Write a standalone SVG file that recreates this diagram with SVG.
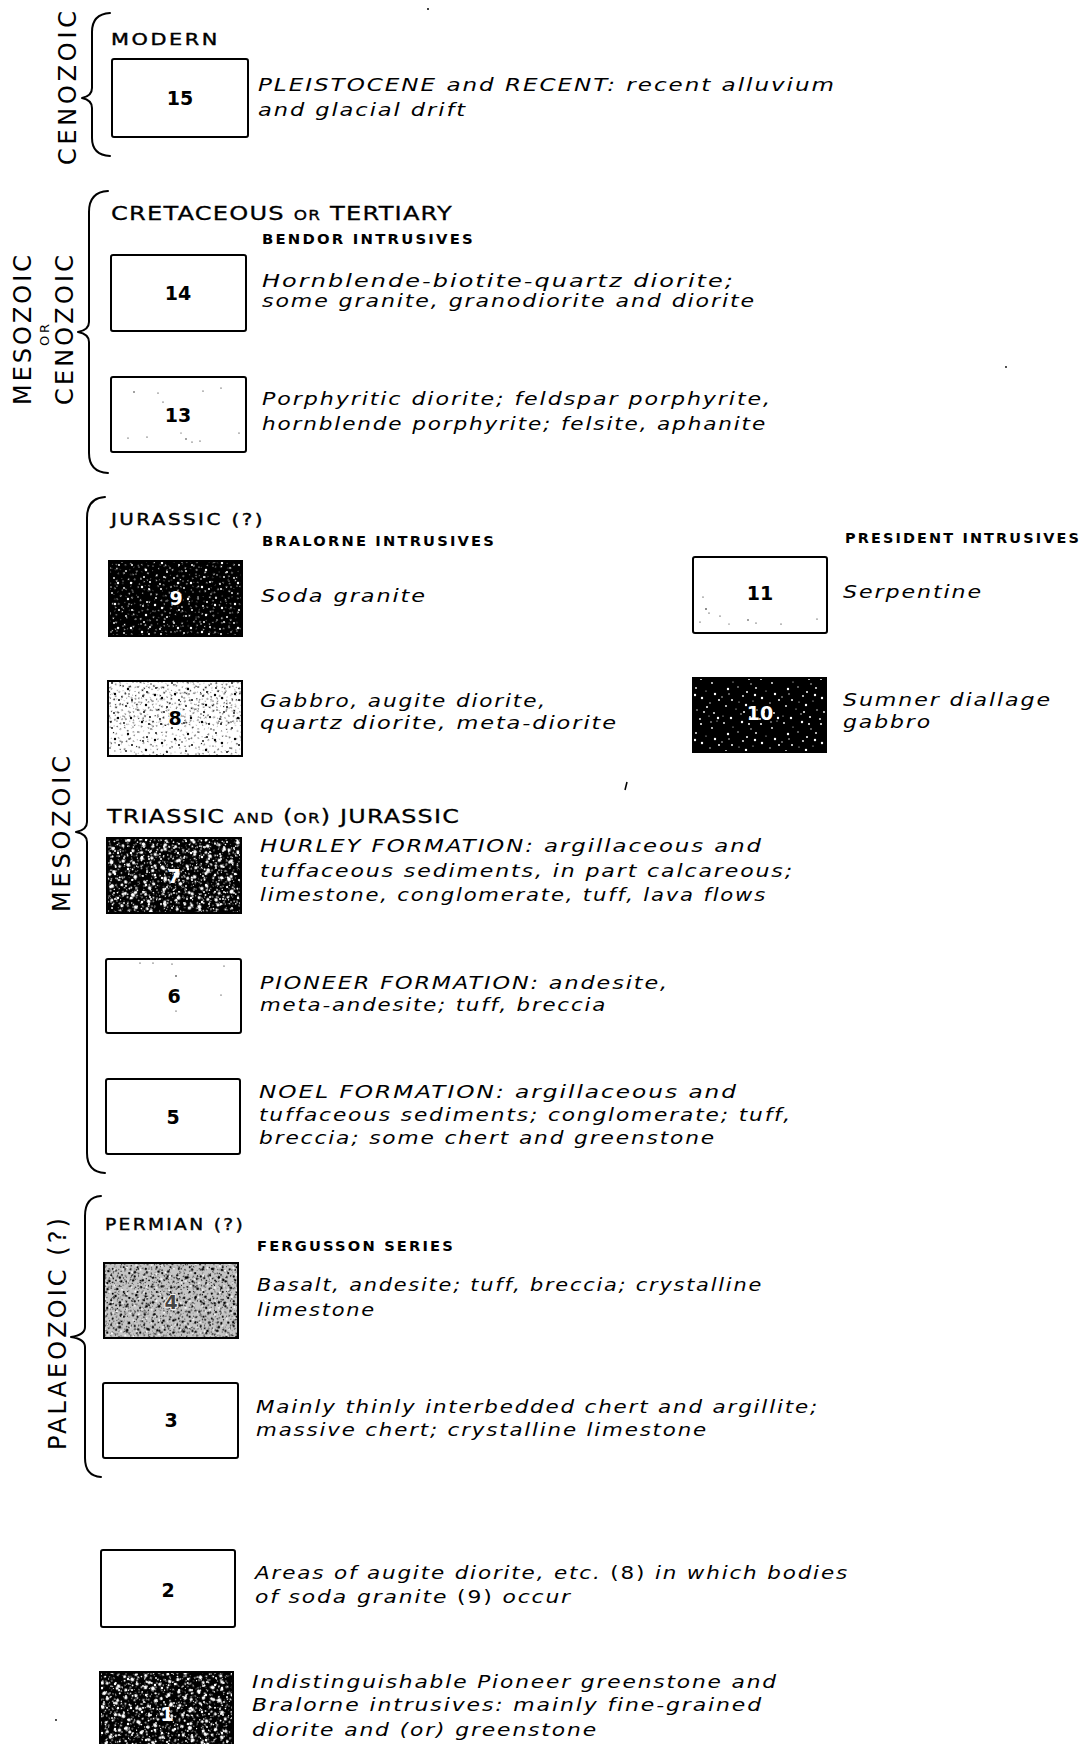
<svg xmlns="http://www.w3.org/2000/svg" xmlns:xlink="http://www.w3.org/1999/xlink" width="1091" height="1744" viewBox="0 0 1091 1744">
<style>
.bx{fill:#fff;stroke:#000;stroke-width:2}
.ol{fill:none;stroke:#000;stroke-width:2}
.br{fill:none;stroke:#000;stroke-width:2;stroke-linecap:round;stroke-linejoin:round}
.num{font-family:"DejaVu Sans","Liberation Sans",sans-serif;font-weight:bold;font-size:19px;text-anchor:middle;fill:#000}
.wn{fill:#fff}
.d{font-family:"DejaVu Sans","Liberation Sans",sans-serif;font-style:italic;font-size:17.5px;letter-spacing:1.5px;fill:#000}
.h{font-family:"DejaVu Sans","Liberation Sans",sans-serif;font-size:20px;letter-spacing:1px;fill:#000;stroke:#000;stroke-width:0.3}
.hm{font-family:"DejaVu Sans","Liberation Sans",sans-serif;font-size:16px;letter-spacing:2px;fill:#000;stroke:#000;stroke-width:0.4}
.sc{font-family:"DejaVu Sans","Liberation Sans",sans-serif;font-weight:bold;font-size:13.5px;letter-spacing:2px;fill:#000}
.era{font-family:"DejaVu Sans","Liberation Sans",sans-serif;font-size:24px;text-anchor:middle;fill:#000}
.up{font-style:normal}
</style>
<defs>
<g id="pts">
<circle cx="4" cy="3" r="0.9"/><circle cx="13" cy="7" r="0.6"/><circle cx="22" cy="2" r="1.2"/><circle cx="31" cy="9" r="0.7"/><circle cx="41" cy="4" r="1"/>
<circle cx="52" cy="8" r="0.9"/><circle cx="57" cy="1" r="0.6"/><circle cx="8" cy="14" r="1.2"/><circle cx="18" cy="12" r="0.7"/><circle cx="27" cy="17" r="1"/>
<circle cx="36" cy="13" r="0.9"/><circle cx="46" cy="16" r="0.6"/><circle cx="55" cy="19" r="1.2"/><circle cx="2" cy="22" r="0.7"/><circle cx="12" cy="25" r="1"/>
<circle cx="23" cy="21" r="0.9"/><circle cx="33" cy="26" r="0.6"/><circle cx="42" cy="23" r="1.2"/><circle cx="50" cy="28" r="0.7"/><circle cx="59" cy="25" r="1"/>
<circle cx="6" cy="31" r="0.9"/><circle cx="16" cy="34" r="0.6"/><circle cx="26" cy="30" r="1.2"/><circle cx="37" cy="35" r="0.7"/><circle cx="47" cy="32" r="1"/>
<circle cx="54" cy="38" r="0.9"/><circle cx="3" cy="41" r="0.6"/><circle cx="11" cy="43" r="1.2"/><circle cx="21" cy="39" r="0.7"/><circle cx="30" cy="42" r="1"/>
<circle cx="40" cy="44" r="0.9"/><circle cx="49" cy="41" r="0.6"/><circle cx="58" cy="43" r="1.2"/><circle cx="9" cy="19" r="0.7"/><circle cx="29" cy="4" r="1"/>
<circle cx="44" cy="37" r="0.9"/><circle cx="19" cy="27" r="0.6"/><circle cx="35" cy="20" r="1.2"/><circle cx="51" cy="2" r="0.7"/><circle cx="24" cy="37" r="1"/>
</g>
<g id="big">
<circle cx="10" cy="9" r="2"/><circle cx="38" cy="28" r="2.2"/><circle cx="25" cy="12" r="1.8"/><circle cx="50" cy="35" r="2"/><circle cx="15" cy="38" r="2.1"/>
<circle cx="45" cy="9" r="1.9"/><circle cx="31" cy="33" r="1.7"/><circle cx="5" cy="26" r="2"/><circle cx="55" cy="20" r="2"/><circle cx="22" cy="24" r="1.9"/>
</g>
<pattern id="pW" width="60" height="45" patternUnits="userSpaceOnUse"><use href="#pts" fill="#fff"/></pattern>
<pattern id="pW2" width="60" height="45" patternUnits="userSpaceOnUse" patternTransform="rotate(90) translate(7,13) scale(0.8)"><use href="#pts" fill="#fff"/></pattern>
<pattern id="pW3" width="60" height="45" patternUnits="userSpaceOnUse" patternTransform="rotate(33) translate(19,5) scale(0.65)"><use href="#pts" fill="#fff"/></pattern>
<pattern id="pW4" width="60" height="45" patternUnits="userSpaceOnUse" patternTransform="rotate(-21) translate(3,17) scale(0.75)"><use href="#pts" fill="#fff"/><use href="#big" fill="#fff"/></pattern>
<pattern id="pW5" width="60" height="45" patternUnits="userSpaceOnUse" patternTransform="rotate(47) translate(9,2) scale(0.9)"><use href="#big" fill="#fff"/></pattern>
<pattern id="pB" width="60" height="45" patternUnits="userSpaceOnUse"><use href="#pts" fill="#000"/></pattern>
<pattern id="pB2" width="60" height="45" patternUnits="userSpaceOnUse" patternTransform="rotate(57) translate(11,3) scale(0.7)"><use href="#pts" fill="#000"/></pattern>
<pattern id="pB3" width="60" height="45" patternUnits="userSpaceOnUse" patternTransform="rotate(121) translate(5,9) scale(0.6)"><use href="#pts" fill="#000"/></pattern>
<pattern id="pM" width="60" height="45" patternUnits="userSpaceOnUse" patternTransform="scale(0.55)"><use href="#pts" fill="#000"/><use href="#big" fill="#000"/></pattern>
<pattern id="pM2" width="60" height="45" patternUnits="userSpaceOnUse" patternTransform="rotate(71) scale(0.6)"><use href="#big" fill="#000"/><use href="#pts" fill="#000"/></pattern>
<pattern id="pMW" width="60" height="45" patternUnits="userSpaceOnUse" patternTransform="rotate(13) scale(0.5)"><use href="#big" fill="#fff"/></pattern>
</defs>
<rect width="1091" height="1744" fill="#fff"/>

<g id="braces">
<path class="br" d="M110,13 Q92,14 92,32 L92,88 Q92,96 82,98 Q92,100 92,108 L92,138 Q92,155 110,156"/>
<path class="br" d="M108,191 Q89,192 89,212 L89,322 Q89,330 78,332 Q89,334 89,342 L89,453 Q89,472 108,473"/>
<path class="br" d="M105,497 Q87,498 87,518 L87,822 Q87,830 76,832 Q87,834 87,842 L87,1153 Q87,1172 105,1173"/>
<path class="br" d="M101,1196 Q85,1197 85,1216 L85,1327 Q85,1335 71,1337 Q85,1339 85,1347 L85,1458 Q85,1476 101,1477"/>
</g>

<g id="era-labels">
<text class="era" transform="translate(76,88) rotate(-90)" textLength="154" lengthAdjust="spacing">CENOZOIC</text>
<text class="era" transform="translate(31,330) rotate(-90)" textLength="150" lengthAdjust="spacing">MESOZOIC</text>
<text class="era" style="font-size:13px" transform="translate(49,335) rotate(-90)" textLength="22" lengthAdjust="spacing">OR</text>
<text class="era" transform="translate(73,330) rotate(-90)" textLength="150" lengthAdjust="spacing">CENOZOIC</text>
<text class="era" transform="translate(70,834) rotate(-90)" textLength="156" lengthAdjust="spacing">MESOZOIC</text>
<text class="era" transform="translate(66,1334) rotate(-90)" textLength="232" lengthAdjust="spacing">PALAEOZOIC (?)</text>
</g>

<g id="headers">
<text class="hm" x="111" y="45" textLength="109" lengthAdjust="spacingAndGlyphs">MODERN</text>
<text class="h" x="111" y="220" textLength="342" lengthAdjust="spacingAndGlyphs">CRETACEOUS <tspan style="font-size:14px">OR</tspan> TERTIARY</text>
<text class="sc" x="262" y="244" textLength="213" lengthAdjust="spacingAndGlyphs">BENDOR  INTRUSIVES</text>
<text class="hm" x="111" y="525" textLength="154" lengthAdjust="spacingAndGlyphs">JURASSIC (?)</text>
<text class="sc" x="262" y="546" textLength="234" lengthAdjust="spacingAndGlyphs">BRALORNE  INTRUSIVES</text>
<text class="sc" x="845" y="543" textLength="236" lengthAdjust="spacingAndGlyphs">PRESIDENT  INTRUSIVES</text>
<text class="h" x="107" y="823" textLength="353" lengthAdjust="spacingAndGlyphs">TRIASSIC <tspan style="font-size:14px">AND</tspan> (<tspan style="font-size:14px">OR</tspan>) JURASSIC</text>
<text class="hm" x="105" y="1230" textLength="140" lengthAdjust="spacingAndGlyphs">PERMIAN (?)</text>
<text class="sc" x="257" y="1251" textLength="198" lengthAdjust="spacingAndGlyphs">FERGUSSON  SERIES</text>
</g>

<g id="unit-15">
<rect class="bx" x="112" y="59" width="136" height="78" rx="2"/>
<text class="num" x="180" y="105">15</text>
<text class="d" x="258" y="91" textLength="578" lengthAdjust="spacingAndGlyphs">PLEISTOCENE and RECENT: recent alluvium</text>
<text class="d" x="258" y="116" textLength="209" lengthAdjust="spacingAndGlyphs">and glacial drift</text>
</g>

<g id="unit-14">
<rect class="bx" x="111" y="255" width="135" height="76" rx="2"/>
<text class="num" x="178" y="300">14</text>
<text class="d" x="262" y="287" textLength="473" lengthAdjust="spacingAndGlyphs">Hornblende-biotite-quartz diorite;</text>
<text class="d" x="262" y="307" textLength="494" lengthAdjust="spacingAndGlyphs">some granite, granodiorite and diorite</text>
</g>

<g id="unit-13">
<rect class="bx" x="111" y="377" width="135" height="75" rx="2"/>
<g fill="#000"><circle cx="134" cy="392" r="0.7"/><circle cx="158" cy="393" r="0.6"/><circle cx="203" cy="391" r="0.6"/><circle cx="221" cy="388" r="0.6"/><circle cx="163" cy="402" r="0.6"/><circle cx="147" cy="437" r="0.6"/><circle cx="186" cy="439" r="0.7"/><circle cx="192" cy="442" r="0.6"/><circle cx="200" cy="441" r="0.6"/><circle cx="239" cy="433" r="0.6"/><circle cx="128" cy="438" r="0.6"/><circle cx="181" cy="433" r="0.5"/></g>
<text class="num" x="178" y="422">13</text>
<text class="d" x="262" y="405" textLength="510" lengthAdjust="spacingAndGlyphs">Porphyritic diorite; feldspar porphyrite,</text>
<text class="d" x="262" y="430" textLength="505" lengthAdjust="spacingAndGlyphs">hornblende porphyrite; felsite, aphanite</text>
</g>

<g id="unit-9">
<rect x="109" y="561" width="133" height="75" fill="#000"/>
<rect x="109" y="561" width="133" height="75" fill="url(#pW)"/>
<rect x="109" y="561" width="133" height="75" fill="url(#pW3)"/>
<rect class="ol" x="109" y="561" width="133" height="75"/>
<text class="num wn" x="176" y="605">9</text>
<text class="d" x="261" y="602" textLength="166" lengthAdjust="spacingAndGlyphs">Soda granite</text>
</g>

<g id="unit-11">
<rect class="bx" x="693" y="557" width="134" height="76" rx="2"/>
<g fill="#000"><circle cx="703" cy="597" r="0.6"/><circle cx="706" cy="609" r="0.8"/><circle cx="709" cy="613" r="0.6"/><circle cx="720" cy="616" r="0.6"/><circle cx="748" cy="620" r="0.7"/><circle cx="756" cy="623" r="0.6"/><circle cx="781" cy="624" r="0.6"/><circle cx="817" cy="619" r="0.6"/><circle cx="729" cy="624" r="0.5"/><circle cx="700" cy="622" r="0.6"/></g>
<text class="num" x="760" y="600">11</text>
<text class="d" x="843" y="598" textLength="140" lengthAdjust="spacingAndGlyphs">Serpentine</text>
</g>

<g id="unit-8">
<rect class="bx" x="108" y="681" width="134" height="75"/>
<rect x="108" y="681" width="134" height="75" fill="url(#pB)"/>
<rect x="108" y="681" width="134" height="75" fill="url(#pB3)"/>
<rect x="108" y="681" width="134" height="45" fill="url(#pB2)"/>
<rect class="ol" x="108" y="681" width="134" height="75"/>
<text class="num" x="175" y="725" style="stroke:#fff;stroke-width:2;paint-order:stroke">8</text>
<text class="d" x="260" y="707" textLength="287" lengthAdjust="spacingAndGlyphs">Gabbro, augite diorite,</text>
<text class="d" x="260" y="729" textLength="358" lengthAdjust="spacingAndGlyphs">quartz diorite, meta-diorite</text>
</g>

<g id="unit-10">
<rect x="693" y="678" width="133" height="74" fill="#000"/>
<rect x="693" y="678" width="133" height="74" fill="url(#pW)"/>
<rect class="ol" x="693" y="678" width="133" height="74"/>
<text class="num wn" x="760" y="720">10</text>
<text class="d" x="843" y="706" textLength="209" lengthAdjust="spacingAndGlyphs">Sumner diallage</text>
<text class="d" x="843" y="728" textLength="89" lengthAdjust="spacingAndGlyphs">gabbro</text>
</g>

<g id="unit-7">
<rect x="107" y="838" width="134" height="75" fill="#000"/>
<rect x="107" y="838" width="134" height="75" fill="url(#pW)"/>
<rect x="107" y="838" width="134" height="75" fill="url(#pW2)"/>
<rect x="107" y="838" width="134" height="75" fill="url(#pW3)"/>
<rect x="107" y="838" width="134" height="75" fill="url(#pW4)"/>
<rect x="107" y="838" width="134" height="75" fill="url(#pW5)"/>
<rect class="ol" x="107" y="838" width="134" height="75"/>
<text class="num wn" x="174" y="883">7</text>
<text class="d" x="260" y="852" textLength="503" lengthAdjust="spacingAndGlyphs">HURLEY FORMATION: argillaceous and</text>
<text class="d" x="260" y="877" textLength="534" lengthAdjust="spacingAndGlyphs">tuffaceous sediments, in part calcareous;</text>
<text class="d" x="260" y="901" textLength="507" lengthAdjust="spacingAndGlyphs">limestone, conglomerate, tuff, lava flows</text>
</g>

<g id="unit-6">
<rect class="bx" x="106" y="959" width="135" height="74" rx="2"/>
<g fill="#000"><circle cx="140" cy="963" r="0.6"/><circle cx="153" cy="963" r="0.6"/><circle cx="172" cy="964" r="0.6"/><circle cx="176" cy="976" r="0.8"/><circle cx="224" cy="966" r="0.6"/><circle cx="221" cy="995" r="0.6"/><circle cx="176" cy="1011" r="0.6"/></g>
<text class="num" x="174" y="1003">6</text>
<text class="d" x="260" y="989" textLength="409" lengthAdjust="spacingAndGlyphs">PIONEER FORMATION: andesite,</text>
<text class="d" x="260" y="1011" textLength="347" lengthAdjust="spacingAndGlyphs">meta-andesite; tuff, breccia</text>
</g>

<g id="unit-5">
<rect class="bx" x="106" y="1079" width="134" height="75" rx="2"/>
<text class="num" x="173" y="1124">5</text>
<text class="d" x="259" y="1098" textLength="479" lengthAdjust="spacingAndGlyphs">NOEL FORMATION: argillaceous and</text>
<text class="d" x="259" y="1121" textLength="533" lengthAdjust="spacingAndGlyphs">tuffaceous sediments; conglomerate; tuff,</text>
<text class="d" x="259" y="1144" textLength="457" lengthAdjust="spacingAndGlyphs">breccia; some chert and greenstone</text>
</g>

<g id="unit-4">
<rect x="104" y="1263" width="134" height="75" fill="#c4c4c4"/>
<rect x="104" y="1263" width="134" height="75" fill="url(#pM)"/>
<rect x="104" y="1263" width="134" height="75" fill="url(#pM2)"/>
<rect x="104" y="1263" width="134" height="75" fill="url(#pMW)"/>
<rect x="104" y="1263" width="134" height="75" fill="url(#pB2)"/>
<rect class="ol" x="104" y="1263" width="134" height="75"/>
<text class="num" x="171" y="1309" style="fill:#444;stroke:#fff;stroke-width:1.5;paint-order:stroke">4</text>
<text class="d" x="257" y="1291" textLength="506" lengthAdjust="spacingAndGlyphs">Basalt, andesite; tuff, breccia; crystalline</text>
<text class="d" x="257" y="1316" textLength="119" lengthAdjust="spacingAndGlyphs">limestone</text>
</g>

<g id="unit-3">
<rect class="bx" x="103" y="1383" width="135" height="75" rx="2"/>
<text class="num" x="171" y="1427">3</text>
<text class="d" x="256" y="1413" textLength="563" lengthAdjust="spacingAndGlyphs">Mainly thinly interbedded chert and argillite;</text>
<text class="d" x="256" y="1436" textLength="452" lengthAdjust="spacingAndGlyphs">massive chert; crystalline limestone</text>
</g>

<g id="unit-2">
<rect class="bx" x="101" y="1550" width="134" height="77" rx="2"/>
<text class="num" x="168" y="1597">2</text>
<text class="d" x="255" y="1579" textLength="594" lengthAdjust="spacingAndGlyphs">Areas of augite diorite, etc. <tspan class="up">(8)</tspan> in which bodies</text>
<text class="d" x="255" y="1603" textLength="317" lengthAdjust="spacingAndGlyphs">of soda granite <tspan class="up">(9)</tspan> occur</text>
</g>

<g id="unit-1">
<rect x="100" y="1672" width="133" height="80" fill="#000"/>
<rect x="100" y="1672" width="133" height="80" fill="url(#pW)"/>
<rect x="100" y="1672" width="133" height="80" fill="url(#pW2)"/>
<rect x="100" y="1672" width="133" height="80" fill="url(#pW3)"/>
<rect x="100" y="1672" width="133" height="80" fill="url(#pW4)"/>
<rect x="100" y="1672" width="133" height="80" fill="url(#pW5)"/>
<rect class="ol" x="100" y="1672" width="133" height="80"/>
<text class="num wn" x="167" y="1721">1</text>
<text class="d" x="252" y="1688" textLength="526" lengthAdjust="spacingAndGlyphs">Indistinguishable Pioneer greenstone and</text>
<text class="d" x="252" y="1711" textLength="511" lengthAdjust="spacingAndGlyphs">Bralorne intrusives: mainly fine-grained</text>
<text class="d" x="252" y="1736" textLength="346" lengthAdjust="spacingAndGlyphs">diorite and (or) greenstone</text>
</g>

<g id="specks" fill="#000">
<circle cx="428" cy="9" r="1"/>
<circle cx="1006" cy="367" r="0.9"/>
<path d="M627,782 L625,790" stroke="#000" stroke-width="1.6"/>
<circle cx="56" cy="1720" r="0.9"/>
</g>
</svg>
